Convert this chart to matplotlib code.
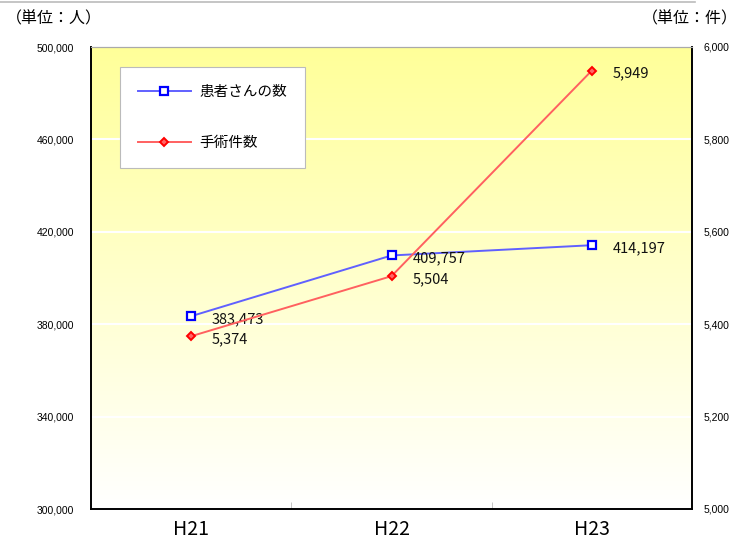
import matplotlib.pyplot as plt
import matplotlib.lines as mlines
import numpy as np

plt.rcParams['font.family'] = ['Noto Sans CJK JP', 'DejaVu Sans']

years = ["H21", "H22", "H23"]
patients = [383473, 409757, 414197]
surgeries = [5374, 5504, 5949]
patient_label = "患者さんの数"
surgery_label = "手術件数"

left_ticks = [300000, 340000, 380000, 420000, 460000, 500000]
right_ticks = [5000, 5200, 5400, 5600, 5800, 6000]

W, H = 739, 542
fig = plt.figure(figsize=(W / 100, H / 100), dpi=100)
ax = fig.add_axes([91 / W, (H - 509) / H, (692 - 91) / W, (509 - 47) / H])
ax2 = ax.twinx()

# background gradient, yellow on top fading to white
grad = np.linspace(0, 1, 256).reshape(-1, 1)
top = np.array([1.0, 1.0, 0.60])
bottom = np.array([1.0, 1.0, 1.0])
img = top * (1 - grad[..., None]) + bottom * grad[..., None]
img = img.reshape(256, 1, 3)
ax.imshow(img, aspect='auto', extent=[0, 3, 300000, 500000], origin='upper', zorder=0)

ax.set_xlim(0, 3)
ax.set_ylim(300000, 500000)
ax2.set_ylim(5000, 6000)

for v in left_ticks[1:-1]:
    ax.axhline(v, color='white', lw=1.5, zorder=1)

x = np.arange(len(years)) + 0.5
blue_style = dict(color='#6060ff', lw=1.4, marker='s', ms=5.5,
                  mfc='white', mec='#0000ff', mew=1.6)
red_style = dict(color='#ff6060', lw=1.4, marker='D', ms=4.5,
                 mfc='#ff6666', mec='#ff0000', mew=1.4)
ax.plot(x, patients, zorder=3, **blue_style)
ax2.plot(x, surgeries, zorder=3, **red_style)

for xi, v in zip(x, patients):
    ax.annotate(f"{v:,}", (xi, v), xytext=(15, -2), textcoords='offset points',
                ha='left', va='center', fontsize=10.5, color='#111111')
for xi, v in zip(x, surgeries):
    ax2.annotate(f"{v:,}", (xi, v), xytext=(15, -2), textcoords='offset points',
                 ha='left', va='center', fontsize=10.5, color='#111111')

ax.set_xticks(x)
ax.set_xticklabels(years, fontsize=14)
ax.set_xticks([1, 2], minor=True)
ax.tick_params(axis='x', which='major', length=0, pad=7)
ax.tick_params(axis='x', which='minor', direction='in', length=5, color='#bbbbbb')

ax.set_yticks(left_ticks)
ax.set_yticklabels([f"{v:,}" for v in left_ticks], fontsize=7.5, family='Liberation Sans')
ax.tick_params(axis='y', length=0, pad=12)
ax2.set_yticks(right_ticks)
ax2.set_yticklabels([f"{v:,}" for v in right_ticks], fontsize=7.5, family='Liberation Sans')
ax2.tick_params(axis='y', length=0, pad=8)

for a in (ax, ax2):
    for side in ('left', 'bottom', 'right'):
        a.spines[side].set_color('black')
        a.spines[side].set_linewidth(1.2)
    a.spines['top'].set_color('#aaaaaa')

h1 = mlines.Line2D([], [], **blue_style)
h2 = mlines.Line2D([], [], **red_style)
leg = ax2.legend([h1, h2], [patient_label, surgery_label], loc='upper left',
                 bbox_to_anchor=((120 - 91) / 601, (509 - 67) / 462),
                 borderaxespad=0, fontsize=10.5, frameon=True, fancybox=False,
                 edgecolor='#bbbbbb', framealpha=1, labelspacing=2.5,
                 handlelength=3.6, handletextpad=0.6, borderpad=1.25)
leg.get_frame().set_linewidth(0.8)

fig.text(6 / W, 1 - 19 / H, "（単位：人）", fontsize=11.5, va='center', ha='left')
fig.text(738 / W, 1 - 19 / H, "（単位：件）", fontsize=11.5, va='center', ha='right')
fig.add_artist(mlines.Line2D([0, 695 / W], [1 - 1.5 / H, 1 - 1.5 / H],
                             color='#bbbbbb', lw=1.2, transform=fig.transFigure))

fig.savefig("out.png", dpi=100)
